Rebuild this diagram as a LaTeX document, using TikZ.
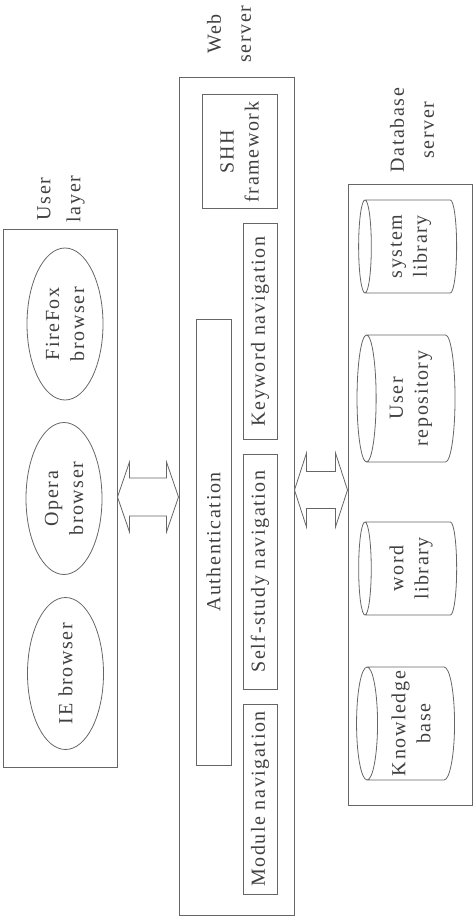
\documentclass[tikz,border=0pt]{standalone}
\usepackage{fontspec}
\setmainfont{Liberation Serif}[LetterSpace=8]
\usetikzlibrary{calc,shapes.geometric}

\tikzset{
  layer/.style={rectangle,draw=black!60,line width=1pt,inner sep=0pt},
  part/.style={rectangle,draw=black!60,line width=1pt,inner sep=0pt,rotate=90,
               text=black!75,align=center,font=\fontsize{20}{25}\selectfont},
  browser/.style={ellipse,draw=black!60,line width=0.8pt,inner sep=0pt,rotate=90,
               minimum width=152,minimum height=76,
               text=black!75,align=center,font=\fontsize{20}{25}\selectfont},
  store/.style={cylinder,draw=black!60,line width=0.8pt,inner sep=0pt,rotate=90,
               shape border rotate=90,aspect=0.2,minimum height=98,
               text=black!75,align=center,font=\fontsize{20}{25}\selectfont},
  title/.style={rotate=90,text=black!75,align=center,font=\fontsize{20}{30}\selectfont},
  fat/.style={draw=black!60,line width=0.8pt,fill=white}
}

% fat double arrow between two tips
\newcommand{\fatarrow}[4]{%
  \draw[fat] (#1) -- ++(12,-#3) -- ++(0,#3-#4) -- ($(#2)+(-12,-#4)$)
    -- ++(0,#4-#3) -- (#2) -- ++(-12,#3) -- ++(0,#4-#3)
    -- ($(#1)+(12,#4)$) -- ++(0,#3-#4) -- cycle;}

\begin{document}
\begin{tikzpicture}[x=1pt,y=-1pt]
  \useasboundingbox (0,0) rectangle (474,917);

  % user layer
  \node[layer,minimum width=114,minimum height=537] (user) at (60,498.5) {};
  \node[title] (usertitle) at (61,199) {User\\layer};
  \node[browser] (firefox) at (65,324) {FireFox\\browser};
  \node[browser] (opera) at (64,498.5) {Opera\\browser};
  \node[browser] (ie) at (65.5,673.5) {IE browser};

  % web server
  \node[layer,minimum width=115,minimum height=837] (web) at (236.5,496.5) {};
  \node[title] (webtitle) at (229,34) {Web\\server};
  \node[part,minimum width=114,minimum height=75] (shh) at (239.5,152) {SHH\\framework};
  \node[part,minimum width=215,minimum height=34] (keyword) at (260,331.5) {Keyword navigation};
  \node[part,minimum width=235,minimum height=34] (selfstudy) at (260,571.5) {Self-study navigation};
  \node[part,minimum width=190,minimum height=34] (module) at (260,799) {Module navigation};
  \node[part,minimum width=446,minimum height=35] (auth) at (213.5,542) {Authentication};

  % database server
  \node[layer,minimum width=124,minimum height=620] (db) at (410,495) {};
  \node[title] (dbtitle) at (412,130) {Database\\server};
  \node[store,minimum width=93] (syslib) at (411,246.5) {system\\library};
  \node[store,minimum width=127] (userrepo) at (411,398.5) {User\\repository};
  \node[store,minimum width=93] (wordlib) at (411,568.5) {word\\library};
  \node[store,minimum width=113] (kbase) at (411,723.5) {Knowledge\\base};

  % arrows
  \coordinate (a1l) at (user.east |- 0,497);
  \coordinate (a1r) at (web.west |- 0,497);
  \coordinate (a2l) at (web.east |- 0,490);
  \coordinate (a2r) at (db.west |- 0,490);
  \fatarrow{a1l}{a1r}{35}{19}
  \fatarrow{a2l}{a2r}{37}{18.5}
\end{tikzpicture}
\end{document}
